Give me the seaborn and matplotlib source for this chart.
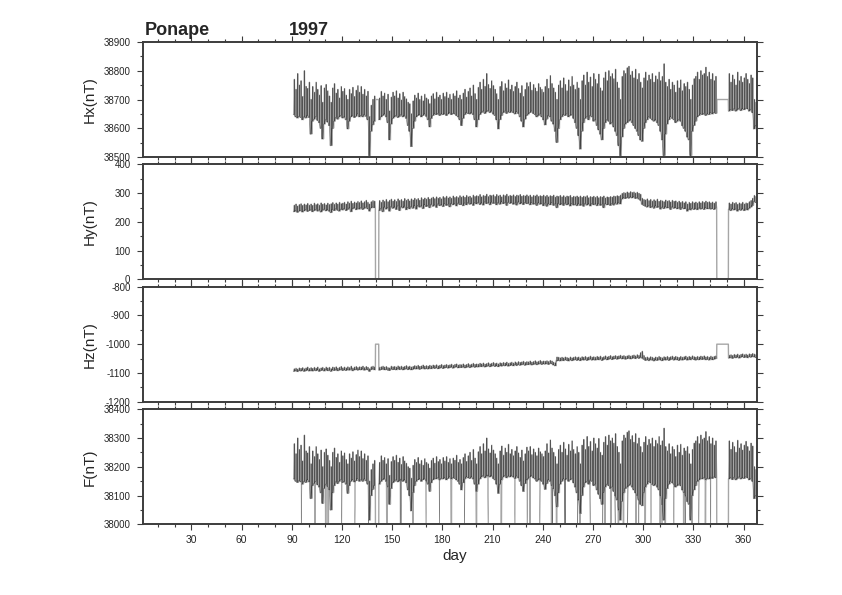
import numpy as np
import pandas as pd
import matplotlib
matplotlib.use("Agg")
import matplotlib.pyplot as plt
from matplotlib.ticker import MultipleLocator, StrMethodFormatter
import seaborn as sns

sns.set_style("ticks")
plt.rcParams["font.family"] = ["Liberation Sans", "DejaVu Sans"]
plt.rcParams["axes.unicode_minus"] = False

station = "Ponape"
year = "1997"
first_day = 91  # one night level and one daytime peak per day, days 91..367

# ---- Hx (nT) ----
hx_lo = [
    38648, 38640, 38636, 38642, 38638, 38630, 38640, 38636, 38645, 38638,
    38580, 38625, 38632, 38640, 38628, 38620, 38600, 38563, 38615, 38630,
    38622, 38610, 38540, 38600, 38625, 38638, 38632, 38640, 38645, 38636,
    38640, 38630, 38598, 38625, 38640, 38645, 38638, 38642, 38650, 38640,
    38645, 38640, 38648, 38642, 38630, 38505, 38590, 38612, 38625, None,
    None, 38630, 38640, 38645, 38650, 38640, 38620, 38560, 38615, 38635,
    38640, 38645, 38638, 38642, 38648, 38640, 38645, 38635, 38610, 38590,
    38537, 38600, 38625, 38640, 38645, 38648, 38640, 38645, 38650, 38642,
    38630, 38605, 38635, 38645, 38650, 38648, 38652, 38645, 38650, 38648,
    38652, 38645, 38650, 38655, 38648, 38652, 38650, 38645, 38640, 38630,
    38610, 38635, 38648, 38655, 38652, 38650, 38655, 38648, 38630, 38605,
    38630, 38648, 38655, 38660, 38652, 38658, 38662, 38655, 38660, 38650,
    38645, 38630, 38598, 38630, 38645, 38655, 38660, 38652, 38658, 38655,
    38660, 38655, 38650, 38658, 38652, 38640, 38625, 38605, 38632, 38645,
    38650, 38655, 38660, 38652, 38648, 38640, 38645, 38650, 38640, 38630,
    38612, 38632, 38645, 38640, 38625, 38615, 38590, 38551, 38600, 38630,
    38640, 38648, 38645, 38650, 38640, 38645, 38648, 38635, 38620, 38600,
    38575, 38528, 38590, 38620, 38635, 38640, 38630, 38645, 38640, 38625,
    38630, 38610, 38595, 38580, 38560, 38600, 38620, 38630, 38625, 38615,
    38620, 38605, 38590, 38575, 38540, 38505, 38570, 38600, 38615, 38620,
    38625, 38630, 38620, 38610, 38600, 38590, 38575, 38560, 38555, 38600,
    38620, 38630, 38640, 38635, 38630, 38625, 38630, 38620, 38610, 38590,
    38560, 38505, 38580, 38615, 38630, 38640, 38635, 38630, 38620, 38625,
    38630, 38625, 38610, 38600, 38590, 38570, 38560, 38505, 38590, 38610,
    38625, 38640, 38645, 38650, 38648, 38652, 38645, 38650, 38648, 38655,
    38650, 38655, 38652, None, None, None, None, None, None, None,
    38660, 38665, 38662, 38668, 38660, 38665, 38670, 38662, 38668, 38665,
    38670, 38668, 38660, 38665, 38655, 38598, 38610,
]
hx_hi = [
    38770, 38735, 38790, 38750, 38765, 38710, 38800, 38745, 38738, 38760,
    38700, 38745, 38725, 38760, 38735, 38715, 38748, 38690, 38740, 38752,
    38730, 38712, 38690, 38740, 38755, 38722, 38735, 38705, 38745, 38728,
    38738, 38715, 38700, 38735, 38720, 38742, 38710, 38732, 38748, 38725,
    38745, 38718, 38735, 38712, 38728, 38640, 38680, 38700, 38712, None,
    None, 38705, 38728, 38712, 38722, 38700, 38718, 38660, 38708, 38725,
    38712, 38730, 38705, 38720, 38698, 38725, 38710, 38702, 38690, 38685,
    38650, 38695, 38715, 38705, 38722, 38700, 38712, 38695, 38718, 38705,
    38700, 38685, 38712, 38720, 38702, 38725, 38708, 38715, 38700, 38722,
    38710, 38725, 38705, 38718, 38700, 38720, 38712, 38730, 38705, 38715,
    38700, 38722, 38735, 38708, 38728, 38740, 38712, 38750, 38720, 38700,
    38742, 38760, 38735, 38770, 38745, 38790, 38752, 38738, 38765, 38748,
    38735, 38720, 38700, 38745, 38762, 38730, 38755, 38740, 38768, 38735,
    38750, 38728, 38745, 38760, 38738, 38722, 38748, 38710, 38735, 38758,
    38745, 38760, 38732, 38752, 38740, 38728, 38755, 38742, 38735, 38725,
    38745, 38770, 38738, 38783, 38755, 38740, 38725, 38700, 38750, 38765,
    38740, 38775, 38752, 38730, 38768, 38745, 38780, 38750, 38735, 38760,
    38740, 38700, 38765, 38785, 38750, 38795, 38760, 38778, 38745, 38790,
    38770, 38755, 38788, 38740, 38730, 38775, 38795, 38765, 38800, 38780,
    38790, 38772, 38805, 38760, 38740, 38700, 38780, 38800, 38790, 38810,
    38815, 38785, 38798, 38775, 38805, 38770, 38790, 38760, 38740, 38775,
    38795, 38765, 38785, 38770, 38790, 38760, 38782, 38770, 38795, 38765,
    38780, 38824, 38760, 38745, 38770, 38735, 38760, 38750, 38725, 38765,
    38740, 38768, 38730, 38755, 38745, 38760, 38735, 38700, 38750, 38772,
    38780, 38795, 38770, 38800, 38785, 38790, 38812, 38780, 38795, 38770,
    38790, 38765, 38780, None, None, None, None, None, None, None,
    38790, 38760, 38785, 38770, 38750, 38795, 38765, 38780, 38760, 38775,
    38790, 38770, 38755, 38785, 38775, 38700, 38690,
]

# ---- Hy (nT) ----
hy_lo = [
    236, 240, 234, 238, 241, 235, 239, 243, 237, 240,
    242, 236, 240, 244, 238, 242, 235, 241, 245, 239,
    243, 238, 233, 244, 240, 246, 241, 238, 245, 242,
    247, 240, 244, 249, 236, 246, 250, 243, 248, 245,
    250, 244, 248, 252, 246, 238, 249, 252, 250, None,
    None, 240, 248, 236, 252, 245, 250, 238, 254, 248,
    252, 244, 256, 240, 253, 249, 255, 243, 251, 246,
    254, 248, 257, 245, 258, 252, 256, 247, 260, 254,
    258, 250, 262, 255, 259, 251, 263, 257, 260, 254,
    264, 258, 262, 253, 265, 260, 264, 256, 266, 261,
    262, 257, 266, 260, 268, 262, 265, 258, 267, 263,
    268, 261, 266, 259, 270, 264, 267, 260, 269, 265,
    266, 260, 268, 262, 270, 264, 267, 258, 269, 265,
    268, 262, 266, 259, 270, 263, 267, 261, 268, 264,
    266, 260, 268, 262, 265, 258, 267, 262, 264, 257,
    266, 255, 264, 260, 267, 258, 263, 250, 265, 260,
    264, 258, 266, 260, 263, 256, 265, 259, 262, 257,
    264, 258, 262, 255, 265, 259, 263, 256, 264, 260,
    263, 257, 265, 258, 262, 250, 264, 260, 262, 258,
    264, 259, 266, 262, 268, 263, 280, 284, 282, 286,
    283, 287, 284, 288, 282, 285, 280, 276, 262, 258,
    255, 252, 256, 250, 254, 248, 256, 251, 253, 245,
    252, 247, 254, 249, 251, 244, 253, 248, 250, 246,
    249, 244, 251, 246, 248, 238, 245, 242, 248, 244,
    247, 243, 249, 245, 248, 244, 250, 246, 248, 245,
    247, 244, 248, None, None, None, None, None, None, None,
    244, 240, 246, 242, 245, 238, 244, 241, 246, 240,
    245, 242, 248, 252, 258, 272, 268,
]
hy_hi = [
    258, 262, 255, 260, 263, 257, 262, 259, 264, 258,
    262, 257, 265, 260, 263, 258, 266, 261, 264, 259,
    265, 260, 263, 267, 261, 266, 262, 268, 263, 265,
    268, 262, 270, 265, 272, 264, 269, 266, 271, 267,
    273, 266, 270, 275, 268, 262, 270, 274, 272, None,
    None, 274, 268, 276, 271, 278, 270, 275, 279, 272,
    277, 271, 280, 274, 278, 272, 281, 275, 279, 273,
    280, 276, 282, 277, 281, 275, 284, 278, 283, 279,
    285, 279, 283, 286, 281, 287, 282, 285, 280, 288,
    284, 289, 283, 287, 282, 290, 285, 288, 284, 291,
    286, 290, 285, 292, 287, 289, 284, 293, 288, 291,
    289, 295, 287, 292, 290, 296, 288, 293, 291, 294,
    288, 295, 290, 293, 287, 294, 291, 296, 289, 292,
    290, 294, 288, 293, 291, 295, 289, 292, 290, 294,
    289, 293, 287, 292, 290, 294, 288, 291, 289, 293,
    288, 292, 287, 291, 289, 293, 286, 290, 288, 292,
    287, 291, 286, 290, 288, 292, 285, 289, 287, 290,
    286, 290, 285, 289, 287, 291, 284, 288, 286, 289,
    285, 289, 284, 288, 286, 290, 283, 287, 285, 288,
    286, 290, 288, 291, 289, 293, 299, 302, 300, 304,
    301, 305, 302, 304, 300, 303, 299, 296, 282, 278,
    276, 280, 274, 278, 272, 277, 273, 279, 271, 275,
    273, 270, 276, 272, 274, 269, 275, 271, 273, 268,
    272, 267, 271, 266, 270, 262, 268, 264, 270, 266,
    269, 265, 270, 266, 271, 267, 272, 268, 270, 266,
    269, 265, 270, None, None, None, None, None, None, None,
    266, 262, 268, 264, 267, 261, 266, 263, 268, 262,
    266, 264, 270, 274, 282, 292, 288,
]

# ---- Hz (nT) ----
hz_lo = [
    -1094, -1092, -1095, -1091, -1093, -1090, -1094, -1092, -1089, -1093,
    -1091, -1093, -1090, -1092, -1089, -1094, -1091, -1090, -1093, -1089,
    -1092, -1090, -1094, -1089, -1091, -1088, -1092, -1090, -1087, -1091,
    -1089, -1091, -1088, -1090, -1086, -1092, -1089, -1087, -1090, -1088,
    -1089, -1086, -1090, -1087, -1089, -1094, -1088, -1086, -1089, None,
    None, -1090, -1088, -1086, -1089, -1087, -1090, -1091, -1086, -1088,
    -1087, -1089, -1085, -1088, -1086, -1089, -1087, -1084, -1088, -1086,
    -1089, -1087, -1084, -1086, -1083, -1087, -1085, -1082, -1086, -1084,
    -1086, -1083, -1085, -1082, -1084, -1081, -1085, -1083, -1080, -1084,
    -1082, -1080, -1083, -1081, -1079, -1083, -1080, -1078, -1082, -1080,
    -1081, -1078, -1082, -1080, -1077, -1081, -1079, -1076, -1080, -1078,
    -1079, -1076, -1078, -1075, -1079, -1077, -1074, -1078, -1076, -1073,
    -1077, -1075, -1078, -1074, -1076, -1073, -1075, -1072, -1076, -1074,
    -1072, -1075, -1071, -1074, -1070, -1073, -1071, -1069, -1073, -1070,
    -1071, -1068, -1072, -1070, -1067, -1071, -1069, -1066, -1070, -1068,
    -1069, -1067, -1070, -1066, -1068, -1072, -1075, -1058, -1056, -1058,
    -1055, -1057, -1054, -1056, -1058, -1054, -1057, -1055, -1053, -1056,
    -1054, -1057, -1053, -1055, -1052, -1056, -1054, -1051, -1055, -1053,
    -1055, -1052, -1054, -1051, -1056, -1053, -1050, -1054, -1052, -1049,
    -1053, -1051, -1049, -1052, -1050, -1048, -1051, -1049, -1052, -1050,
    -1048, -1051, -1049, -1047, -1050, -1046, -1049, -1045, -1048, -1052,
    -1056, -1054, -1057, -1053, -1055, -1058, -1054, -1056, -1052, -1055,
    -1057, -1053, -1055, -1052, -1056, -1053, -1051, -1055, -1052, -1054,
    -1056, -1052, -1055, -1053, -1051, -1055, -1052, -1054, -1050, -1053,
    -1055, -1052, -1054, -1051, -1053, -1050, -1054, -1052, -1055, -1051,
    -1054, -1052, -1050, None, None, None, None, None, None, None,
    -1048, -1046, -1049, -1045, -1047, -1044, -1048, -1045, -1043, -1046,
    -1044, -1047, -1043, -1045, -1042, -1044, -1046,
]
hz_hi = [
    -1086, -1084, -1087, -1083, -1085, -1082, -1086, -1083, -1080, -1085,
    -1082, -1085, -1081, -1084, -1080, -1086, -1083, -1081, -1085, -1080,
    -1083, -1081, -1086, -1080, -1082, -1079, -1084, -1081, -1078, -1083,
    -1080, -1083, -1079, -1082, -1077, -1084, -1080, -1078, -1082, -1079,
    -1080, -1077, -1082, -1078, -1081, -1086, -1079, -1077, -1080, None,
    None, -1081, -1079, -1077, -1080, -1078, -1082, -1083, -1077, -1079,
    -1078, -1080, -1076, -1079, -1077, -1080, -1078, -1075, -1079, -1077,
    -1080, -1078, -1075, -1077, -1074, -1078, -1076, -1073, -1077, -1075,
    -1077, -1074, -1076, -1073, -1075, -1072, -1076, -1074, -1071, -1075,
    -1073, -1071, -1074, -1072, -1070, -1074, -1071, -1069, -1073, -1071,
    -1072, -1069, -1073, -1071, -1068, -1072, -1070, -1067, -1071, -1069,
    -1070, -1067, -1069, -1066, -1070, -1068, -1065, -1069, -1067, -1064,
    -1068, -1066, -1069, -1065, -1067, -1064, -1066, -1063, -1067, -1065,
    -1063, -1066, -1062, -1065, -1061, -1064, -1062, -1060, -1064, -1061,
    -1062, -1059, -1063, -1061, -1058, -1062, -1060, -1057, -1061, -1059,
    -1060, -1058, -1061, -1057, -1059, -1063, -1066, -1045, -1046, -1048,
    -1046, -1048, -1045, -1047, -1049, -1045, -1048, -1046, -1044, -1047,
    -1045, -1048, -1044, -1046, -1043, -1047, -1045, -1042, -1046, -1044,
    -1046, -1043, -1045, -1042, -1047, -1044, -1041, -1045, -1043, -1040,
    -1044, -1042, -1040, -1043, -1041, -1039, -1042, -1040, -1043, -1041,
    -1039, -1042, -1040, -1038, -1041, -1037, -1040, -1030, -1025, -1040,
    -1047, -1045, -1048, -1044, -1046, -1049, -1045, -1047, -1043, -1046,
    -1048, -1044, -1046, -1043, -1047, -1044, -1042, -1046, -1043, -1045,
    -1047, -1043, -1046, -1044, -1042, -1046, -1043, -1045, -1041, -1044,
    -1046, -1043, -1045, -1042, -1044, -1041, -1045, -1043, -1046, -1042,
    -1045, -1043, -1041, None, None, None, None, None, None, None,
    -1039, -1037, -1040, -1036, -1038, -1035, -1039, -1036, -1034, -1037,
    -1035, -1038, -1034, -1036, -1033, -1035, -1037,
]

# ---- F (nT) ----
f_lo = [
    38158, 38150, 38146, 38152, 38148, 38140, 38150, 38146, 38155, 38148,
    38090, 38135, 38142, 38150, 38138, 38130, 38110, 38073, 38125, 38140,
    38132, 38120, 38050, 38110, 38135, 38148, 38142, 38150, 38155, 38146,
    38150, 38140, 38108, 38135, 38150, 38155, 38148, 38152, 38160, 38150,
    38155, 38150, 38158, 38152, 38140, 38015, 38100, 38122, 38135, None,
    None, 38140, 38150, 38155, 38160, 38150, 38130, 38070, 38125, 38145,
    38150, 38155, 38148, 38152, 38158, 38150, 38155, 38145, 38120, 38100,
    38047, 38110, 38135, 38150, 38155, 38158, 38150, 38155, 38160, 38152,
    38140, 38115, 38145, 38155, 38160, 38158, 38162, 38155, 38160, 38158,
    38162, 38155, 38160, 38165, 38158, 38162, 38160, 38155, 38150, 38140,
    38120, 38145, 38158, 38165, 38162, 38160, 38165, 38158, 38140, 38115,
    38140, 38158, 38165, 38170, 38162, 38168, 38172, 38165, 38170, 38160,
    38155, 38140, 38108, 38140, 38155, 38165, 38170, 38162, 38168, 38165,
    38170, 38165, 38160, 38168, 38162, 38150, 38135, 38115, 38142, 38155,
    38160, 38165, 38170, 38162, 38158, 38150, 38155, 38160, 38150, 38140,
    38122, 38142, 38155, 38150, 38135, 38125, 38100, 38061, 38110, 38140,
    38150, 38158, 38155, 38160, 38150, 38155, 38158, 38145, 38130, 38110,
    38085, 38038, 38100, 38130, 38145, 38150, 38140, 38155, 38150, 38135,
    38140, 38120, 38105, 38090, 38070, 38110, 38130, 38140, 38135, 38125,
    38130, 38115, 38100, 38085, 38050, 38015, 38080, 38110, 38125, 38130,
    38135, 38140, 38130, 38120, 38110, 38100, 38085, 38070, 38065, 38110,
    38130, 38140, 38150, 38145, 38140, 38135, 38140, 38130, 38120, 38100,
    38070, 38015, 38090, 38125, 38140, 38150, 38145, 38140, 38130, 38135,
    38140, 38135, 38120, 38110, 38100, 38080, 38070, 38015, 38100, 38120,
    38135, 38150, 38155, 38160, 38158, 38162, 38155, 38160, 38158, 38165,
    38160, 38165, 38162, None, None, None, None, None, None, None,
    38158, 38162, 38156, 38164, 38155, 38160, 38165, 38158, 38162, 38160,
    38165, 38162, 38155, 38160, 38150, 38090, 38100,
]
f_hi = [
    38280, 38245, 38300, 38260, 38275, 38220, 38310, 38255, 38248, 38270,
    38210, 38255, 38235, 38270, 38245, 38225, 38258, 38200, 38250, 38262,
    38240, 38222, 38200, 38250, 38265, 38232, 38245, 38215, 38255, 38238,
    38248, 38225, 38210, 38245, 38230, 38252, 38220, 38242, 38258, 38235,
    38255, 38228, 38245, 38222, 38238, 38150, 38190, 38210, 38222, None,
    None, 38215, 38238, 38222, 38232, 38210, 38228, 38170, 38218, 38235,
    38222, 38240, 38215, 38230, 38208, 38235, 38220, 38212, 38200, 38195,
    38160, 38205, 38225, 38215, 38232, 38210, 38222, 38205, 38228, 38215,
    38210, 38195, 38222, 38230, 38212, 38235, 38218, 38225, 38210, 38232,
    38220, 38235, 38215, 38228, 38210, 38230, 38222, 38240, 38215, 38225,
    38210, 38232, 38245, 38218, 38238, 38250, 38222, 38260, 38230, 38210,
    38252, 38270, 38245, 38280, 38255, 38300, 38262, 38248, 38275, 38258,
    38245, 38230, 38210, 38255, 38272, 38240, 38265, 38250, 38278, 38245,
    38260, 38238, 38255, 38270, 38248, 38232, 38258, 38220, 38245, 38268,
    38255, 38270, 38242, 38262, 38250, 38238, 38265, 38252, 38245, 38235,
    38255, 38280, 38248, 38293, 38265, 38250, 38235, 38210, 38260, 38275,
    38250, 38285, 38262, 38240, 38278, 38255, 38290, 38260, 38245, 38270,
    38250, 38210, 38275, 38295, 38260, 38305, 38270, 38288, 38255, 38300,
    38280, 38265, 38298, 38250, 38240, 38285, 38305, 38275, 38310, 38290,
    38300, 38282, 38315, 38270, 38250, 38210, 38290, 38310, 38300, 38320,
    38325, 38295, 38308, 38285, 38315, 38280, 38300, 38270, 38250, 38285,
    38305, 38275, 38295, 38280, 38300, 38270, 38292, 38280, 38305, 38275,
    38290, 38334, 38270, 38255, 38280, 38245, 38270, 38260, 38235, 38275,
    38250, 38278, 38240, 38265, 38255, 38270, 38245, 38210, 38260, 38282,
    38290, 38305, 38280, 38310, 38295, 38300, 38322, 38290, 38305, 38280,
    38300, 38275, 38290, None, None, None, None, None, None, None,
    38290, 38260, 38285, 38270, 38250, 38292, 38265, 38280, 38258, 38275,
    38288, 38270, 38255, 38282, 38272, 38200, 38190,
]
# F dropouts (days) in the two records
f_drops_black = [95.6, 119.8, 127.6, 135.8, 155.2, 170.2, 178.2, 193.2, 207.4,
                 223.4, 230.6, 238.2, 245.8, 253.4, 260.8, 268.4, 275.8, 283.4,
                 290.6, 297.4, 304.6, 311.4, 318.4, 325.4, 333.2, 340.4]
f_drops_grey = [103.8, 110.2, 111.8, 146.8, 155.0, 162.4, 185.4, 200.4, 215.2,
                232.2, 245.2, 248.2, 253.2, 262.2, 277.2, 280.6, 285.2, 288.2,
                295.6, 301.2, 310.2, 313.2, 324.2, 329.2, 337.2]

# name, night level, daytime peak, fill value of gaps, y range, drops
panels = [
    ("Hx(nT)", hx_lo, hx_hi, 38700, (38500, 38900), [], []),
    ("Hy(nT)", hy_lo, hy_hi, 0, (0, 400), [], []),
    ("Hz(nT)", hz_lo, hz_hi, -1000, (-1200, -800), [], []),
    ("F(nT)", f_lo, f_hi, 37900, (38000, 38400), f_drops_black, f_drops_grey),
]


def build_series(lo, hi, half_width):
    # night level held until shortly before local noon, peak at noon
    days = np.arange(first_day, first_day + len(lo))
    lo = np.array(lo, dtype=float)
    hi = np.array(hi, dtype=float)
    t = np.column_stack([days, days + 0.5 - half_width, days + 0.5,
                         days + 0.5 + half_width]).ravel()
    v = np.column_stack([lo, lo, hi, lo]).ravel()
    return pd.DataFrame({"t": t, "v": v})


def add_drops(df, drops, value):
    if len(drops) == 0:
        return df
    extra = pd.DataFrame({"t": drops, "v": [value] * len(drops)})
    return pd.concat([df, extra]).sort_values("t").reset_index(drop=True)


frame_col = "#3c3c3c"
fig = plt.figure(figsize=(8.42, 5.95), dpi=100)
bottoms = [0.7361, 0.5303, 0.3249, 0.1188]

for i, (label, lo, hi, fill, ylim, drops_k, drops_g) in enumerate(panels):
    ax = fig.add_axes([0.1698, bottoms[i], 0.7292, 0.1933])

    grey = build_series(lo, hi, 0.4)
    grey["v"] = grey["v"].fillna(fill)
    grey = add_drops(grey, drops_g, fill)

    black = add_drops(build_series(lo, hi, 0.02), drops_k, fill)
    black["seg"] = black["v"].isna().cumsum()
    black = black.dropna()

    sns.lineplot(data=grey, x="t", y="v", estimator=None, color="#a6a6a6",
                 lw=1.0, legend=False, ax=ax)
    sns.lineplot(data=black, x="t", y="v", units="seg", estimator=None,
                 color="black", lw=0.3, alpha=0.6, legend=False, ax=ax)

    ax.set_xlim(1, 368)
    ax.set_ylim(*ylim)
    ax.set_xlabel("")
    ax.set_ylabel(label, fontsize=11)
    ax.yaxis.set_label_coords(-0.075, 0.5)

    ax.xaxis.set_major_locator(MultipleLocator(30))
    ax.xaxis.set_minor_locator(MultipleLocator(10))
    ax.yaxis.set_major_locator(MultipleLocator(100))
    ax.yaxis.set_minor_locator(MultipleLocator(50))
    ax.yaxis.set_major_formatter(StrMethodFormatter("{x:.0f}"))

    ax.tick_params(which="both", direction="out", top=True, bottom=True,
                   left=True, right=True, color=frame_col, width=0.8)
    ax.tick_params(which="major", length=4, labelsize=7, pad=5)
    ax.tick_params(which="minor", length=2.5)
    if i < 3:
        ax.tick_params(labelbottom=False)
    else:
        ax.tick_params(axis="x", labelsize=7.5, pad=4)

    for sp in ax.spines.values():
        sp.set_color(frame_col)
        sp.set_linewidth(1.4)
        sp.set_visible(True)

fig.text(145 / 842, 1 - 35 / 595, station, fontsize=13, fontweight="bold",
         va="baseline", ha="left")
fig.text(289 / 842, 1 - 35 / 595, year, fontsize=13, fontweight="bold",
         va="baseline", ha="left")
fig.text(455 / 842, 1 - 556 / 595, "day", fontsize=11, ha="center",
         va="center")

fig.savefig("out.png", dpi=100)
